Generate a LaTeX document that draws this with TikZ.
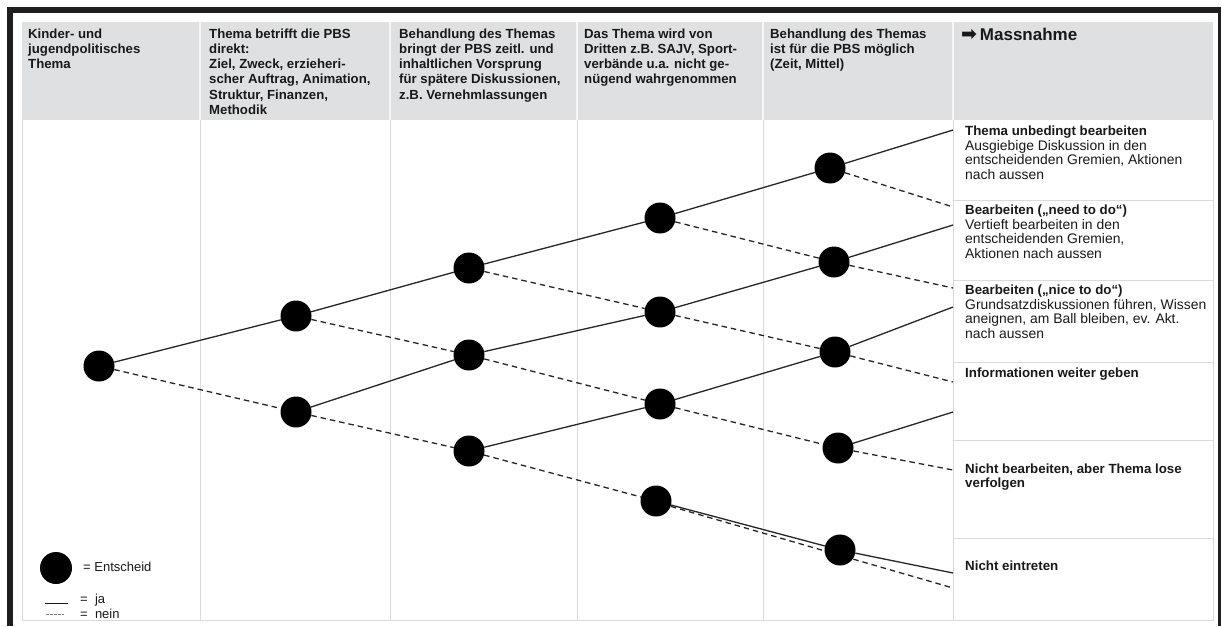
\documentclass[tikz,border=0pt]{standalone}
\usepackage{fontspec}
\setmainfont{Liberation Sans}
\newfontfamily\symfont{DejaVu Sans}
\definecolor{hdr}{RGB}{223,224,225}
\definecolor{grid}{RGB}{218,218,218}
\definecolor{ink}{RGB}{25,25,25}
\pgfdeclarelayer{tbl}
\pgfdeclarelayer{edges}
\pgfsetlayers{tbl,edges,main}
\newcommand{\lbl}[1]{{\fontsize{13.3}{14.8}\selectfont\bfseries #1}}
\begin{document}
\begin{tikzpicture}[x=1pt,y=-1pt,
  hdtext/.style={anchor=north west,inner sep=0pt,align=left,font=\bfseries\fontsize{13.2}{15.3}\selectfont,text=ink},
  rtext/.style={anchor=north west,inner sep=0pt,align=left,font=\fontsize{13.9}{14.8}\selectfont,text=ink},
  rline/.style={anchor=base west,inner sep=0pt,font=\bfseries\fontsize{13.3}{14.8}\selectfont,text=ink},
  legtext/.style={anchor=base west,inner sep=0pt,font=\fontsize{13}{15}\selectfont,text=ink},
  dec/.style={circle,fill=black,minimum size=31pt,inner sep=0pt},
  ja/.style={line width=1.3pt,black!85},
  nein/.style={line width=1.3pt,black!85,dash pattern=on 5.5pt off 4pt},
  gridline/.style={draw=grid,line width=0.8pt},
]
\useasboundingbox (0,0) rectangle (1222,626);
\begin{pgfonlayer}{tbl}
  \fill[white] (0,0) rectangle (1222,626);
  % frame
  \fill[black!88] (7,7) rectangle (1221,13);
  \fill[black!88] (7,7) rectangle (13,626);
  \fill[black!88] (1218,7) rectangle (1221,626);
  % header
  \fill[hdr] (22,22) rectangle (1213,120);
  \foreach \x in {200,390,577,763,953} {
    \draw[white!70!hdr,line width=1.2pt] (\x,22) -- (\x,120);
    \draw[gridline] (\x,120) -- (\x,620);
  }
  \draw[gridline] (22,120) -- (22,620) -- (1213,620) -- (1213,120);
  \foreach \y in {200,280,362,440,538} {
    \draw[gridline] (953,\y) -- (1213,\y);
  }
\end{pgfonlayer}

% header texts
\node[hdtext] (h1) at (28,28.3) {Kinder- und\\jugendpolitisches\\Thema};
\node[hdtext] (h2) at (209,28.3) {Thema betrifft die PBS\\direkt:\\Ziel, Zweck, erzieheri-\\scher Auftrag, Animation,\\Struktur, Finanzen,\\Methodik};
\node[hdtext] (h3) at (399,28.3) {Behandlung des Themas\\bringt der PBS zeitl. und\\inhaltlichen Vorsprung\\für spätere Diskussionen,\\z.B. Vernehmlassungen};
\node[hdtext] (h4) at (584,28.3) {Das Thema wird von\\Dritten z.B. SAJV, Sport-\\verbände u.a. nicht ge-\\nügend wahrgenommen};
\node[hdtext] (h5) at (770,28.3) {Behandlung des Themas\\ist für die PBS möglich\\(Zeit, Mittel)};
\node[anchor=base west,inner sep=0pt,font=\bfseries\fontsize{17}{20}\selectfont,text=ink] (h6) at (961,41) {{\symfont\fontsize{19}{20}\selectfont ➡}\,Massnahme};

% right column texts
\node[rtext] (r1) at (965,125.4) {\lbl{Thema unbedingt bearbeiten}\\Ausgiebige Diskussion in den\\entscheidenden Gremien, Aktionen\\nach aussen};
\node[rtext] (r2) at (965,204.4) {\lbl{Bearbeiten („need to do“)}\\Vertieft bearbeiten in den\\entscheidenden Gremien,\\Aktionen nach aussen};
\node[rtext] (r3) at (965,284.4) {\lbl{Bearbeiten („nice to do“)}\\Grundsatzdiskussionen führen, Wissen\\aneignen, am Ball bleiben, ev. Akt.\\nach aussen};
\node[rline] (r4) at (965,377) {Informationen weiter geben};
\node[rtext,font=\bfseries\fontsize{13.3}{14.2}\selectfont] (r5) at (965,463.4) {Nicht bearbeiten, aber Thema lose\\verfolgen};
\node[rline] (r6) at (965,570) {Nicht eintreten};

% decision nodes
\node[dec] (A)  at (99,366) {};
\node[dec] (B1) at (296,316) {};
\node[dec] (B2) at (296,412) {};
\node[dec] (C1) at (469,268) {};
\node[dec] (C2) at (469,355) {};
\node[dec] (C3) at (469,451) {};
\node[dec] (D1) at (660,218) {};
\node[dec] (D2) at (660,312) {};
\node[dec] (D3) at (660,404) {};
\node[dec] (D4) at (656,501) {};
\node[dec] (E1) at (830,168) {};
\node[dec] (E2) at (834,262) {};
\node[dec] (E3) at (835,352) {};
\node[dec] (E4) at (838,448) {};
\node[dec] (E5) at (840,550) {};

\coordinate (t1) at (953,130);
\coordinate (t2) at (953,207);
\coordinate (t3) at (953,225);
\coordinate (t4) at (953,288);
\coordinate (t5) at (953,307);
\coordinate (t6) at (953,382);
\coordinate (t7) at (953,412);
\coordinate (t8) at (953,470);
\coordinate (t9) at (953,573);
\coordinate (t10) at (953,588);

\begin{pgfonlayer}{edges}
  \draw[ja] (A) -- (B1);   \draw[nein] (A) -- (B2);
  \draw[ja] (B1) -- (C1);  \draw[nein] (B1) -- (C2);
  \draw[ja] (B2) -- (C2);  \draw[nein] (B2) -- (C3);
  \draw[ja] (C1) -- (D1);  \draw[nein] (C1) -- (D2);
  \draw[ja] (C2) -- (D2);  \draw[nein] (C2) -- (D3);
  \draw[ja] (C3) -- (D3);  \draw[nein] (C3) -- (D4);
  \draw[ja] (D1) -- (E1);  \draw[nein] (D1) -- (E2);
  \draw[ja] (D2) -- (E2);  \draw[nein] (D2) -- (E3);
  \draw[ja] (D3) -- (E3);  \draw[nein] (D3) -- (E4);
  \draw[ja] (D4) -- (E5);  \draw[nein] (D4.-20) -- (t10);
  \draw[ja] (E1) -- (t1);  \draw[nein] (E1) -- (t2);
  \draw[ja] (E2) -- (t3);  \draw[nein] (E2) -- (t4);
  \draw[ja] (E3) -- (t5);  \draw[nein] (E3) -- (t6);
  \draw[ja] (E4) -- (t7);  \draw[nein] (E4) -- (t8);
  \draw[ja] (E5) -- (t9);
\end{pgfonlayer}

% legend
\node[dec,minimum size=32pt] (L) at (56,568) {};
\node[legtext] (l1) at (83,571) {= Entscheid};
\coordinate (ls1) at (45,603);
\coordinate (ls2) at (68,603);
\draw[line width=0.8pt,ink] (ls1) -- (ls2);
\node[legtext] (l2) at (80,603) {=\ \ ja};
\coordinate (ln1) at (46,614);
\coordinate (ln2) at (64,614);
\draw[line width=0.8pt,gray,dash pattern=on 2.5pt off 1.5pt] (ln1) -- (ln2);
\node[legtext] (l3) at (80,618) {=\ \ nein};
\end{tikzpicture}
\end{document}
